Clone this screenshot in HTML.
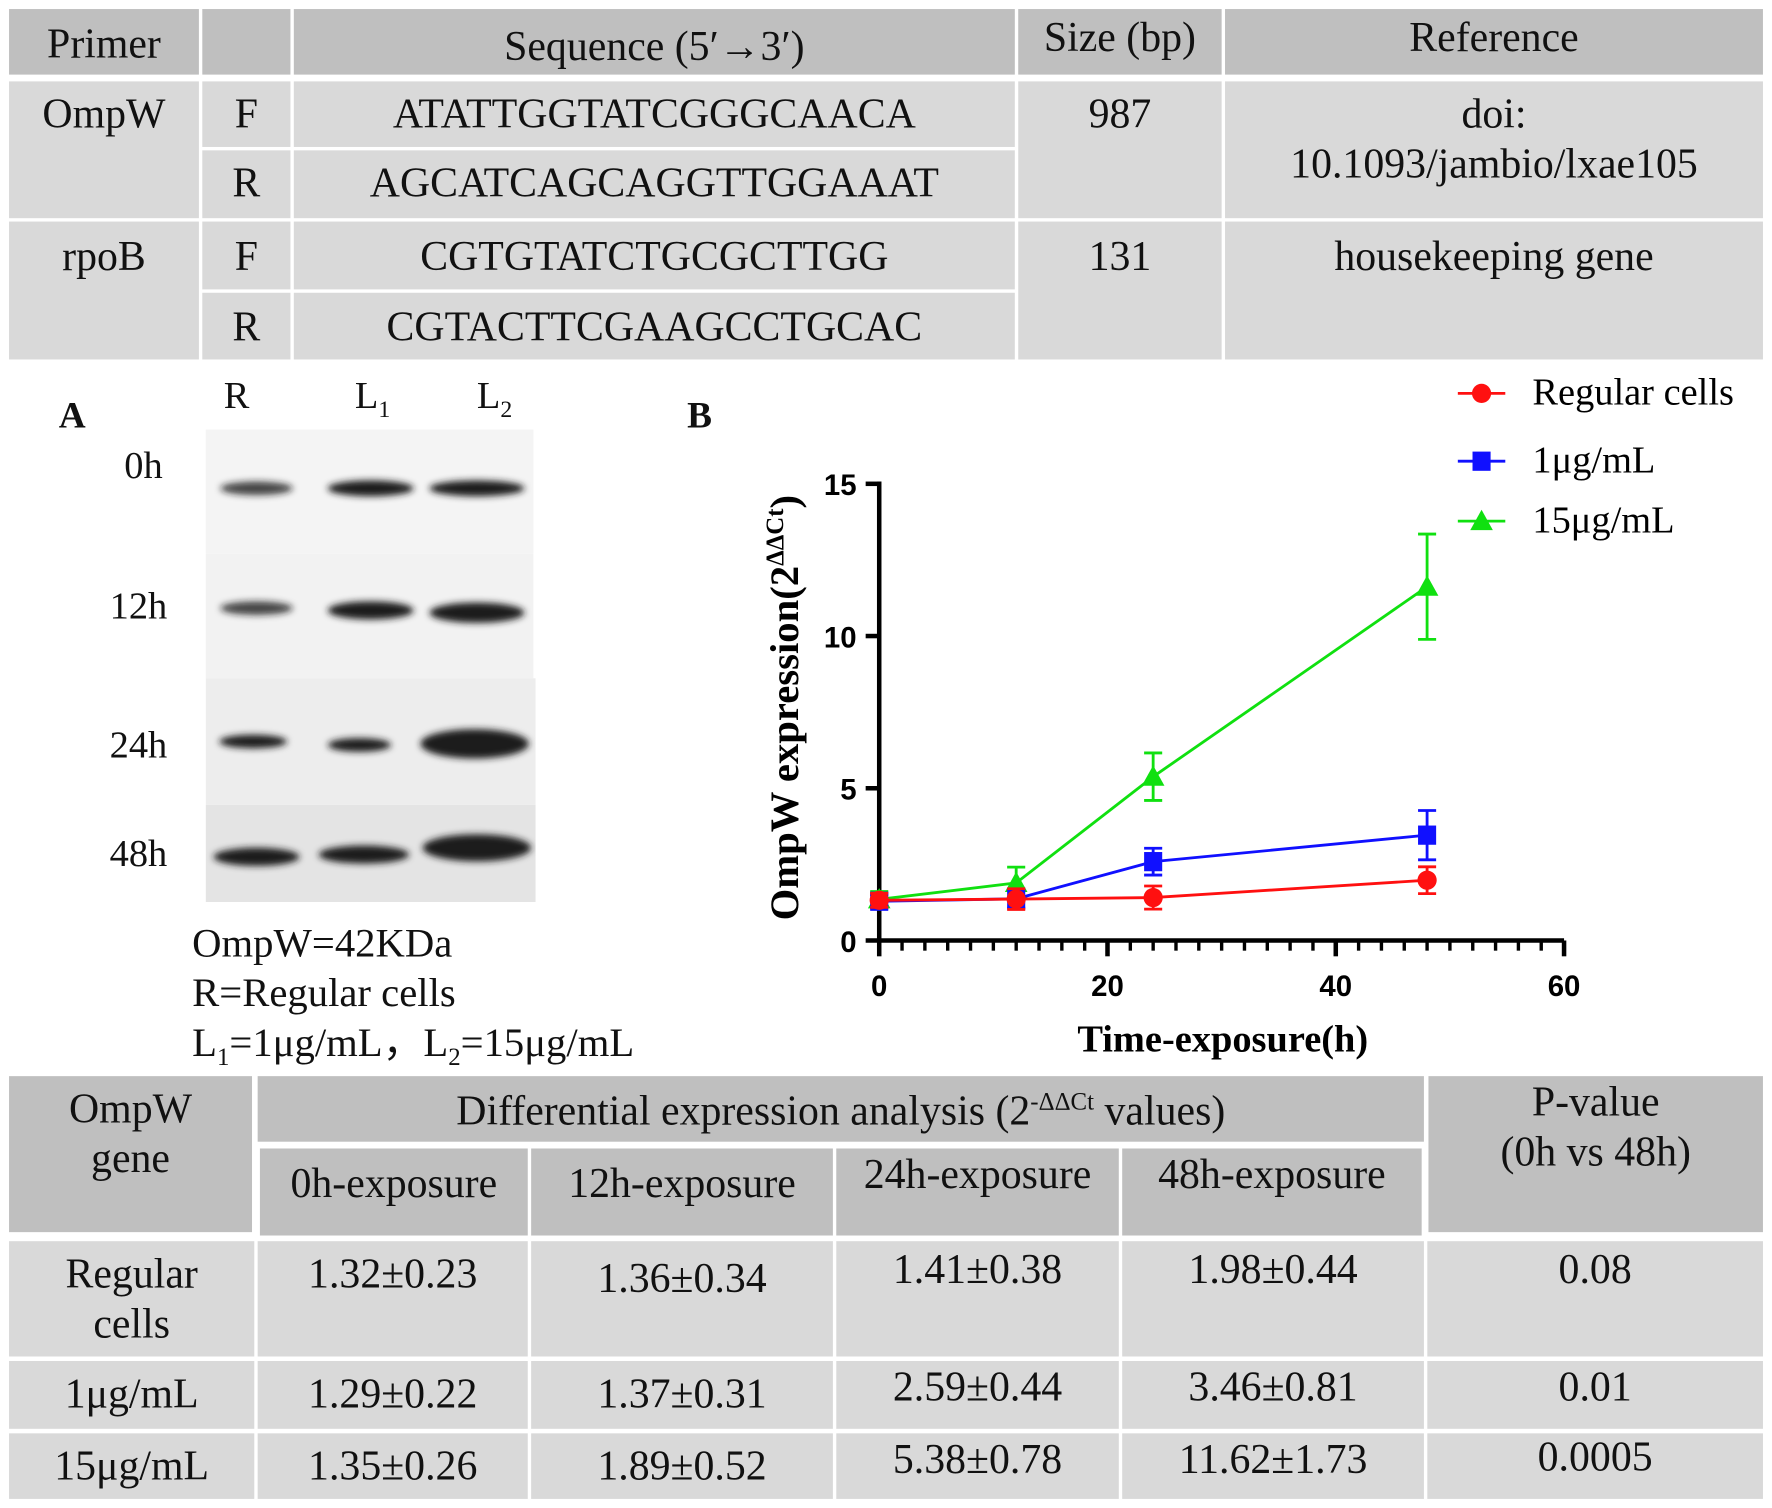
<!DOCTYPE html>
<html><head><meta charset="utf-8">
<style>
html,body{margin:0;padding:0;background:#fff;}
body{width:1772px;height:1508px;overflow:hidden;position:relative;}
#root{position:absolute;left:0;top:0;width:1568px;height:1334px;transform:scale(1.1301,1.1304);transform-origin:0 0;font-family:"Liberation Serif","Times New Roman",Times,serif;color:#111;}
.c{position:absolute;display:flex;align-items:flex-start;justify-content:center;text-align:center;font-size:37px;line-height:44px;box-sizing:border-box;white-space:nowrap;}
.h{background:#bfbfbf;}
.b{background:#d9d9d9;}
.t{position:absolute;white-space:nowrap;}
</style></head><body>
<div id="root">
<div>
<div class="c h" style="left:8px;top:8px;width:168px;height:58px;padding-top:10px">Primer</div>
<div class="c h" style="left:179px;top:8px;width:78px;height:58px"></div>
<div class="c h" style="left:260px;top:8px;width:638px;height:58px;padding-top:12px">Sequence (5′→3′)</div>
<div class="c h" style="left:901px;top:8px;width:180px;height:58px;padding-top:4px">Size (bp)</div>
<div class="c h" style="left:1084px;top:8px;width:476px;height:58px;padding-top:4px">Reference</div>

<div class="c b" style="left:8px;top:72px;width:168px;height:121px;padding-top:8px">OmpW</div>
<div class="c b" style="left:179px;top:72px;width:78px;height:58px;padding-top:8px">F</div>
<div class="c b" style="left:179px;top:133px;width:78px;height:60px;padding-top:8px">R</div>
<div class="c b" style="left:260px;top:72px;width:638px;height:58px;padding-top:8px">ATATTGGTATCGGGCAACA</div>
<div class="c b" style="left:260px;top:133px;width:638px;height:60px;padding-top:8px">AGCATCAGCAGGTTGGAAAT</div>
<div class="c b" style="left:901px;top:72px;width:180px;height:121px;padding-top:8px">987</div>
<div class="c b" style="left:1084px;top:72px;width:476px;height:121px;padding-top:8px"><span>doi:<br>10.1093/jambio/lxae105</span></div>

<div class="c b" style="left:8px;top:196px;width:168px;height:122px;padding-top:10px">rpoB</div>
<div class="c b" style="left:179px;top:196px;width:78px;height:60px;padding-top:10px">F</div>
<div class="c b" style="left:179px;top:259px;width:78px;height:59px;padding-top:9px">R</div>
<div class="c b" style="left:260px;top:196px;width:638px;height:60px;padding-top:10px">CGTGTATCTGCGCTTGG</div>
<div class="c b" style="left:260px;top:259px;width:638px;height:59px;padding-top:9px">CGTACTTCGAAGCCTGCAC</div>
<div class="c b" style="left:901px;top:196px;width:180px;height:122px;padding-top:10px">131</div>
<div class="c b" style="left:1084px;top:196px;width:476px;height:122px;padding-top:10px">housekeeping gene</div>
</div>

<div class="t" style="left:52px;top:350px;font-size:33px;font-weight:bold">A</div>
<div class="t" style="left:198px;top:332px;font-size:34px">R</div>
<div class="t" style="left:314px;top:332px;font-size:34px">L<sub style="font-size:21px">1</sub></div>
<div class="t" style="left:422px;top:332px;font-size:34px">L<sub style="font-size:21px">2</sub></div>
<div class="t" style="left:110px;top:394px;font-size:34px">0h</div>
<div class="t" style="left:97px;top:518px;font-size:34px">12h</div>
<div class="t" style="left:97px;top:641px;font-size:34px">24h</div>
<div class="t" style="left:97px;top:737px;font-size:34px">48h</div>
<svg style="position:absolute;left:182px;top:380px" width="292" height="418">
<defs><filter id="bl"><feGaussianBlur stdDeviation="3"/></filter></defs>
<rect x="0" y="0" width="290" height="110" fill="#f4f4f4"/>
<rect x="0" y="110" width="290" height="110" fill="#f2f2f2"/>
<rect x="0" y="220" width="292" height="112" fill="#ededed"/>
<rect x="0" y="332" width="292" height="86" fill="#e4e4e4"/>
<g filter="url(#bl)" fill="#1a1a1a">
<ellipse cx="45" cy="52" rx="32" ry="6" opacity="0.8"/>
<ellipse cx="146" cy="52" rx="38" ry="7"/>
<ellipse cx="240" cy="52" rx="42" ry="7"/>
<ellipse cx="45" cy="158" rx="32" ry="6" opacity="0.8"/>
<ellipse cx="146" cy="160" rx="38" ry="8"/>
<ellipse cx="240" cy="162" rx="42" ry="9"/>
<ellipse cx="42" cy="276" rx="30" ry="6"/>
<ellipse cx="136" cy="279" rx="28" ry="6"/>
<ellipse cx="238" cy="278" rx="48" ry="13"/>
<ellipse cx="45" cy="378" rx="38" ry="8"/>
<ellipse cx="140" cy="376" rx="40" ry="8"/>
<ellipse cx="240" cy="370" rx="48" ry="12"/>
</g>
</svg>
<div class="t" style="left:170px;top:812px;font-size:36px;line-height:44px">OmpW=42KDa<br>R=Regular cells<br>L<sub style="font-size:22px">1</sub>=1μg/mL，L<sub style="font-size:22px">2</sub>=15μg/mL</div>

<div class="t" style="left:608px;top:350px;font-size:33px;font-weight:bold">B</div>
<svg id="chart" style="position:absolute;left:0;top:0" width="1568" height="950"></svg>

<div>
<div class="c h" style="left:8px;top:952px;width:215px;height:138px;padding-top:8px"><span>OmpW<br>gene</span></div>
<div class="c h" style="left:228px;top:952px;width:1032px;height:58px;padding-top:10px"><span>Differential expression analysis (2<sup style="font-size:22px;line-height:0">-ΔΔCt</sup> values)</span></div>
<div class="c h" style="left:1264px;top:952px;width:296px;height:138px;padding-top:2px"><span>P-value<br>(0h vs 48h)</span></div>
<div class="c h" style="left:230px;top:1016px;width:237px;height:77px;padding-top:10px">0h-exposure</div>
<div class="c h" style="left:470px;top:1016px;width:267px;height:77px;padding-top:10px">12h-exposure</div>
<div class="c h" style="left:740px;top:1016px;width:250px;height:77px;padding-top:2px">24h-exposure</div>
<div class="c h" style="left:993px;top:1016px;width:265px;height:77px;padding-top:2px">48h-exposure</div>
<div id="tbody"></div>
</div>
</div>
<script>
const rowsT=[["Regular<br>cells","1.32±0.23","1.36±0.34","1.41±0.38","1.98±0.44","0.08"],
["1μg/mL","1.29±0.22","1.37±0.31","2.59±0.44","3.46±0.81","0.01"],
["15μg/mL","1.35±0.26","1.89±0.52","5.38±0.78","11.62±1.73","0.0005"]];
const rowY=[[1098,102],[1204,60],[1268,58]];
const colX=[[8,217],[228,239],[470,267],[740,250],[993,267],[1263,297]];
const padT=[[8,8,12,4,4,4],[8,8,8,2,2,2],[8,8,8,2,2,0]];
const tb=document.getElementById('tbody');
rowsT.forEach((r,i)=>{r.forEach((txt,j)=>{const d=document.createElement('div');d.className='c b';
d.style.cssText=`left:${colX[j][0]}px;top:${rowY[i][0]}px;width:${colX[j][1]}px;height:${rowY[i][1]}px;padding-top:${padT[i][j]}px`;
d.innerHTML='<span>'+txt+'</span>';


tb.appendChild(d);});});

const times=[0,12,24,48];
const regular=[1.32,1.36,1.41,1.98];
const regularErr=[0.23,0.34,0.38,0.44];
const low=[1.29,1.37,2.59,3.46];
const lowErr=[0.22,0.31,0.44,0.81];
const high=[1.35,1.89,5.38,11.62];
const highErr=[0.26,0.52,0.78,1.73];
const xTicks=[0,20,40,60];
const yTicks=[0,5,10,15];
const seriesNames=["Regular cells","1μg/mL","15μg/mL"];

const svg=document.getElementById('chart');const NS='http://www.w3.org/2000/svg';
const X0=778,X1=1384,Y0=832,Y1=428;
const xs=v=>X0+(v-0)/60*(X1-X0);
const ys=v=>Y0-(v-0)/15*(Y0-Y1);
function el(t,a){const e=document.createElementNS(NS,t);for(const k in a)e.setAttribute(k,a[k]);svg.appendChild(e);return e;}
let e;
e=el('line',{x1:X0,y1:Y0,x2:X1,y2:Y0,stroke:'#000','stroke-width':4});


e=el('line',{x1:X0,y1:Y0+2,x2:X0,y2:Y1-2,stroke:'#000','stroke-width':4});


for(let v=0;v<=60;v+=2){const major=v%20===0;
e=el('line',{x1:xs(v),y1:Y0,x2:xs(v),y2:Y0+(major?14:9),stroke:'#000','stroke-width':major?4:3});

}
xTicks.forEach(v=>{e=el('text',{x:xs(v),y:Y0+49,'text-anchor':'middle','font-family':'Liberation Sans, sans-serif','font-weight':'bold','font-size':26});e.textContent=v;

});
yTicks.forEach(v=>{e=el('line',{x1:X0-12,y1:ys(v),x2:X0,y2:ys(v),stroke:'#000','stroke-width':4});


e=el('text',{x:X0-20,y:ys(v)+10,'text-anchor':'end','font-family':'Liberation Sans, sans-serif','font-weight':'bold','font-size':26});e.textContent=v;

});
e=el('text',{x:1082,y:930,'text-anchor':'middle','font-family':'Liberation Serif, serif','font-weight':'bold','font-size':34});e.textContent='Time-exposure(h)';


e=el('text',{x:0,y:0,'text-anchor':'middle','font-family':'Liberation Serif, serif','font-weight':'bold','font-size':36,transform:'translate(706,626) rotate(-90)'});
e.innerHTML='OmpW expression(2<tspan dy="-13" font-size="22">ΔΔCt</tspan><tspan dy="13">)</tspan>';



function marker(shape,cx,cy,c,name){let m;
if(shape==='circle')m=el('circle',{cx:cx,cy:cy,r:8.5,fill:c});
else if(shape==='square')m=el('rect',{x:cx-8,y:cy-8.5,width:16,height:17,fill:c});
else m=el('polygon',{points:`${cx},${cy-10} ${cx-10},${cy+8} ${cx+10},${cy+8}`,fill:c});

}
const series=[[regular,regularErr,'#ff1010','circle','regular'],[low,lowErr,'#1010ff','square','low-dose'],[high,highErr,'#10e010','triangle','high-dose']];
[series[2],series[1],series[0]].forEach(([vals,errs,c,shape,nm])=>{
 const pts=times.map((t,i)=>xs(t)+','+ys(vals[i])).join(' ');
 e=el('polyline',{points:pts,fill:'none',stroke:c,'stroke-width':2.5});
 
 
 times.forEach((t,i)=>{const x=xs(t),a=ys(vals[i]+errs[i]),b=ys(vals[i]-errs[i]);
  e=el('path',{d:`M${x},${a}V${b}M${x-8},${a}H${x+8}M${x-8},${b}H${x+8}`,stroke:c,'stroke-width':2.5,fill:'none'});
  
  
  marker(shape,x,ys(vals[i]),c,nm+'-point');});
});
const legY=[348,408,461];
series.forEach(([v,er,c,shape,nm],i)=>{
 e=el('line',{x1:1290,y1:legY[i],x2:1332,y2:legY[i],stroke:c,'stroke-width':2.5});
 
 
 marker(shape,1311,legY[i],c,'legend-marker');
 e=el('text',{x:1356,y:legY[i]+10,'font-family':'Liberation Serif, serif','font-size':34});e.textContent=seriesNames[i];
 
 
});
</script>
</body></html>
